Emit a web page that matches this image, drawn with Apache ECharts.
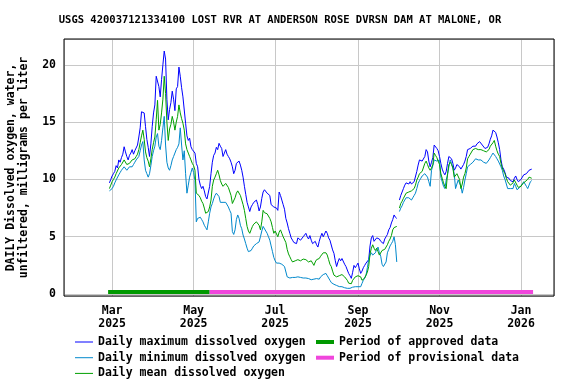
<!DOCTYPE html>
<html>
<head>
<meta charset="utf-8">
<script src="https://cdn.jsdelivr.net/npm/echarts@6/dist/echarts.min.js"></script>
<style>
html,body{margin:0;padding:0;background:#fff;}
#chart{width:576px;height:384px;}
</style>
</head>
<body>
<div id="chart"></div>
<script>
// ---- DATA ----
const titleText = "USGS 420037121334100 LOST RVR AT ANDERSON ROSE DVRSN DAM AT MALONE, OR";
const yAxisTitle = "DAILY Dissolved oxygen, water,\nunfiltered, milligrams per liter";
const seriesNames = ["Daily maximum dissolved oxygen", "Daily minimum dissolved oxygen", "Daily mean dissolved oxygen"];
const periodNames = ["Period of approved data", "Period of provisional data"];
const monthAbbr = ["Jan","Feb","Mar","Apr","May","Jun","Jul","Aug","Sep","Oct","Nov","Dec"];
const firstDay = "2025-02-27"; // first daily value; one value per day after that
const xRange = ["2025-01-24T00:00:00Z", "2026-01-25T16:00:00Z"];
const yRange = [-0.17, 22.25];
const approvedPeriod = ["2025-02-26", "2025-05-13"];
const provisionalPeriod = ["2025-05-13", "2026-01-10"];
const periodLevel = 0.17;

const dailyMax = [
  9.7, 10.0,
  10.3,10.5,10.7,11.2,11.0,11.7,11.5,11.9,12.2,12.85,12.4,12.0,11.7,12.1,12.3,12.6,12.2,12.5,12.6,13.0,13.7,14.5,15.9,16.0,15.8,14.6,13.5,12.8,12.0,13.1,14.6,
  15.8,16.5,19.0,19.1,18.1,17.2,18.7,20.0,21.2,20.5,17.0,15.2,16.1,16.7,17.7,17.0,16.0,17.9,18.1,19.8,19.0,18.0,17.2,17.2,14.9,13.8,13.4,13.6,12.85,12.6,
  12.5,12.3,11.4,11.1,10.0,9.5,9.2,9.4,9.0,8.5,8.3,8.2,9.4,10.5,11.5,12.1,12.3,12.8,12.6,13.15,12.9,12.7,12.0,12.3,12.6,12.2,12.0,11.8,11.5,11.1,10.5,
  10.8,11.4,11.5,11.6,11.25,10.8,10.2,9.4,8.7,8.0,7.6,7.2,7.6,7.8,8.0,8.05,8.2,7.8,7.25,7.6,8.35,8.9,9.1,9.0,8.8,8.7,8.6,7.8,7.9,7.6,
  7.7,7.5,7.3,8.9,8.6,8.2,7.8,7.4,6.6,6.2,5.7,5.3,4.9,4.7,4.5,4.4,4.4,4.9,4.9,4.7,4.8,5.0,4.9,5.3,5.0,4.8,5.1,4.7,4.4,4.3,4.6,
  4.3,4.1,4.6,5.0,5.3,5.0,5.15,5.5,5.3,4.9,4.7,4.55,3.85,3.55,2.9,2.4,2.8,3.1,2.9,3.1,3.0,2.6,2.4,2.1,1.8,1.6,1.37,1.9,2.5,2.3,2.5,
  2.7,2.2,1.8,2.0,2.3,2.5,2.7,2.6,3.0,4.2,4.9,5.1,4.6,4.5,4.9,4.9,4.8,4.6,4.5,4.4,4.8,5.0,5.2,5.6,5.8,6.2,6.5,6.9,6.7,6.6,
  null,8.2,8.6,8.9,9.2,9.5,9.7,9.65,9.6,9.8,9.6,9.7,9.8,9.95,10.7,11.25,11.7,11.7,11.6,11.7,12.0,12.6,12.4,11.6,11.1,11.5,11.9,13.0,13.0,12.7,12.5,
  12.0,11.4,10.9,10.6,10.4,10.7,11.4,12.0,12.0,11.8,11.4,10.8,11.0,11.3,11.4,11.1,10.9,10.8,11.3,11.6,12.0,12.6,12.7,12.7,12.8,12.9,13.0,12.9,13.1,13.2,
  13.3,13.2,13.0,12.9,12.7,12.6,12.8,13.1,13.5,13.8,14.3,14.2,14.1,13.7,13.2,12.6,11.7,11.1,10.9,10.6,10.2,10.3,10.1,9.9,9.9,9.8,10.1,10.3,10.0,9.8,9.65,
  10.0,10.2,10.4,10.3,10.5,10.5,10.8,10.7,10.9
];
const dailyMin = [
  9.0, 9.1,
  9.2,9.4,9.7,9.95,10.1,10.4,10.6,10.8,10.9,11.1,11.0,10.8,10.9,11.1,11.0,11.1,11.3,11.5,11.7,11.8,12.0,12.5,13.0,13.3,11.7,10.8,10.5,10.2,10.5,11.2,12.0,
  12.5,12.9,13.7,14.0,12.9,12.6,13.4,14.5,15.5,13.0,11.5,11.0,10.8,11.2,11.7,12.0,12.3,12.6,12.8,13.1,14.5,13.0,11.7,12.5,10.5,8.8,9.5,10.2,10.6,11.0,
  10.6,9.9,6.3,6.6,6.75,6.7,6.5,6.3,6.0,5.8,5.6,6.3,7.05,7.6,7.9,8.3,8.6,8.8,8.9,8.5,8.0,7.9,8.0,8.1,8.0,7.9,7.6,7.3,7.05,5.45,5.2,
  5.6,6.5,6.9,6.6,6.0,5.7,5.15,4.8,4.4,4.0,3.7,3.55,3.8,4.0,4.2,4.3,4.4,4.5,4.55,5.0,5.5,5.9,5.8,5.5,5.3,5.0,4.7,4.2,3.7,3.2,
  2.9,2.7,2.7,2.7,2.6,2.6,2.55,2.4,2.25,1.5,1.45,1.4,1.4,1.45,1.5,1.45,1.4,1.5,1.5,1.45,1.5,1.4,1.45,1.4,1.3,1.35,1.3,1.25,1.2,1.3,1.4,
  1.35,1.3,1.3,1.5,1.65,1.7,1.75,1.8,1.6,1.4,1.2,1.0,0.93,0.85,0.8,0.75,0.7,0.65,0.64,0.64,0.6,0.55,0.55,0.5,0.5,0.5,0.55,0.6,0.64,0.64,0.64,
  0.64,0.64,0.64,0.93,1.2,1.4,1.65,2.3,3.0,3.4,3.6,3.4,3.3,3.6,3.9,4.1,3.6,3.3,2.6,2.4,2.3,2.8,3.6,3.9,4.2,4.4,4.6,5.0,4.3,2.8,
  null,7.2,7.5,7.7,8.0,8.2,8.4,8.5,8.4,8.3,8.2,8.4,8.6,8.8,9.2,9.65,9.9,10.1,10.3,10.4,10.5,10.4,10.2,9.8,9.4,10.8,11.2,11.7,11.7,11.6,11.7,
  11.7,10.2,9.8,9.4,9.2,9.95,10.4,11.1,11.7,11.4,11.0,10.5,9.2,9.6,9.95,9.9,9.4,8.8,9.3,9.95,10.5,11.1,11.2,11.3,11.4,11.5,11.6,11.8,11.8,11.7,
  11.7,11.7,11.6,11.5,11.4,11.4,11.5,11.7,11.9,12.1,12.3,12.2,12.0,11.8,11.6,11.5,11.1,10.8,10.3,10.0,9.6,9.2,9.2,9.2,9.2,9.2,9.65,9.4,9.1,9.2,9.3,
  9.4,9.6,9.8,9.6,9.4,9.2,9.5,9.8,9.9
];
const dailyMean = [
  9.2, 9.5,
  9.8,10.0,10.2,10.5,10.6,11.0,11.1,11.3,11.4,11.7,11.6,11.3,11.2,11.4,11.5,11.7,11.6,11.8,12.0,12.2,12.6,13.2,13.8,14.3,13.5,12.4,11.9,11.6,11.1,11.8,12.6,
  13.2,13.7,15.2,16.9,14.3,14.8,15.8,17.0,19.0,17.5,15.0,13.4,14.4,14.8,15.5,15.0,14.3,15.0,15.5,16.5,15.8,15.3,14.9,14.3,13.1,12.6,12.3,12.0,11.7,11.4,
  11.2,10.8,8.8,8.9,8.6,8.4,8.1,7.9,7.5,7.05,7.1,7.2,7.6,8.2,9.4,9.95,10.2,10.5,10.8,10.4,9.9,9.6,9.4,9.5,9.65,9.5,9.3,9.2,8.6,7.9,8.0,
  8.4,8.8,9.0,9.1,8.6,8.2,7.8,7.3,6.6,5.9,5.5,5.3,5.6,5.9,6.1,6.2,6.3,6.2,6.0,5.6,6.3,7.3,7.1,7.0,7.0,6.9,6.6,6.3,5.8,5.3,
  5.5,5.6,5.0,5.4,5.6,5.3,5.0,4.9,4.5,3.9,3.5,3.25,3.0,2.8,2.85,2.9,2.95,3.0,2.95,2.9,3.0,3.05,3.0,3.0,2.9,2.8,2.95,2.9,2.7,2.5,2.8,
  3.0,3.0,3.1,3.3,3.4,3.6,3.7,3.6,3.4,3.0,2.6,2.4,2.0,1.65,1.6,1.5,1.55,1.6,1.65,1.7,1.6,1.5,1.4,1.2,0.95,0.8,0.9,1.2,1.3,1.5,1.55,
  1.6,1.65,1.5,1.2,1.3,1.4,1.5,1.9,2.4,3.5,4.0,4.3,4.0,3.8,4.0,3.7,3.4,3.5,3.8,3.9,3.9,4.0,4.3,4.6,4.8,5.1,5.6,5.8,5.9,5.9,
  null,7.5,7.9,8.1,8.35,8.5,8.8,8.8,8.9,8.9,9.0,9.1,9.2,9.5,9.95,10.2,10.5,10.6,10.7,10.8,11.4,11.6,11.3,11.0,10.8,11.0,11.3,12.3,12.1,11.9,11.8,
  11.3,10.5,10.1,9.7,9.4,9.2,10.5,11.3,11.5,11.3,11.0,10.2,10.3,10.5,10.6,10.0,9.2,9.6,10.2,10.5,11.0,11.8,12.0,12.2,12.3,12.6,12.6,12.7,12.6,12.6,
  12.6,12.6,12.5,12.5,12.4,12.4,12.4,12.6,12.9,13.0,13.2,13.4,12.9,12.5,12.2,12.0,11.4,11.0,10.7,10.5,10.1,9.8,9.7,9.5,9.6,9.7,9.95,9.8,9.5,9.3,9.2,
  9.4,9.6,9.7,9.8,9.95,10.0,10.2,10.1,10.1
];

// ---- BUILD ----
const DAY = 86400000;
const t0 = Date.parse(firstDay + "T00:00:00Z");
function toPairs(arr){ return arr.map((v,i)=>[t0 + i*DAY, v]); }

const FONT = "DejaVu Sans Mono";
const colors = { max:"#0000FF", min:"#0088CC", mean:"#00A000", approved:"#009900", provisional:"#F046DC" };
const txt = { fontFamily: FONT, fontWeight: "bold", color: "#000", fontSize: 11.5 };

function lineSeries(name, data, color){
  return { name, type:"line", data: toPairs(data), showSymbol:false, symbol:"none",
    color, itemStyle:{color}, lineStyle:{color, width:1}, connectNulls:false, animation:false, z:2 };
}
function periodSeries(name, range, color){
  return { name, type:"line", data: range.map(d => [Date.parse(d + "T00:00:00Z"), periodLevel]),
    showSymbol:false, symbol:"none", color, itemStyle:{color}, lineStyle:{color, width:4}, animation:false, z:3 };
}

const legendCommon = { orient: "vertical", top: 335.5, padding: 0, height: 60, itemWidth: 18, itemGap: 2.7,
  selectedMode: false, textStyle: Object.assign({}, txt, { lineHeight: 13 }) };

const chart = echarts.init(document.getElementById("chart"), null, {renderer:"canvas"});
chart.setOption({
  useUTC: true,
  animation: false,
  backgroundColor: "#fff",
  title: { text: titleText, left: 280, top: 14.5, textAlign: "center", padding: 0,
    textStyle: Object.assign({}, txt, {fontSize: 10.5}) },
  grid: { left: 64, top: 39, right: 22, bottom: 88, show: true, borderColor: "#000", borderWidth: 1,
    backgroundColor: "transparent", z: 5, containLabel: false, outerBoundsMode: "none" },
  xAxis: {
    type: "time", min: Date.parse(xRange[0]), max: Date.parse(xRange[1]), splitNumber: 6,
    axisLine: { show: false }, axisTick: { show: false },
    splitLine: { show: true, lineStyle: { color: "#c8c8c8", width: 1 } },
    axisLabel: Object.assign({}, txt, { margin: 9, lineHeight: 13, hideOverlap: false,
      formatter: v => { const d = new Date(v); return monthAbbr[d.getUTCMonth()] + "\n" + d.getUTCFullYear(); } })
  },
  yAxis: {
    type: "value", min: yRange[0], max: yRange[1], splitNumber: 5, minInterval: 5, maxInterval: 5,
    name: yAxisTitle, nameLocation: "middle", nameGap: 33, nameRotate: 90,
    nameTextStyle: Object.assign({}, txt, { lineHeight: 13.5, fontSize: 11.5 }),
    axisLine: { show: false }, axisTick: { show: false },
    splitLine: { show: true, lineStyle: { color: "#c8c8c8", width: 1 } },
    axisLabel: Object.assign({}, txt, { margin: 8,
      formatter: v => (Math.abs(v % 5) < 1e-6 ? String(Math.round(v)) : "") })
  },
  legend: [
    Object.assign({}, legendCommon, { data: seriesNames.map(n => ({ name: n, icon: "rect" })), left: 75, itemHeight: 1 }),
    Object.assign({}, legendCommon, { data: periodNames.map(n => ({ name: n, icon: "rect" })), left: 316, itemHeight: 4 })
  ],
  series: [
    lineSeries(seriesNames[0], dailyMax, colors.max),
    lineSeries(seriesNames[1], dailyMin, colors.min),
    lineSeries(seriesNames[2], dailyMean, colors.mean),
    periodSeries(periodNames[0], approvedPeriod, colors.approved),
    periodSeries(periodNames[1], provisionalPeriod, colors.provisional)
  ]
});
</script>
</body>
</html>
